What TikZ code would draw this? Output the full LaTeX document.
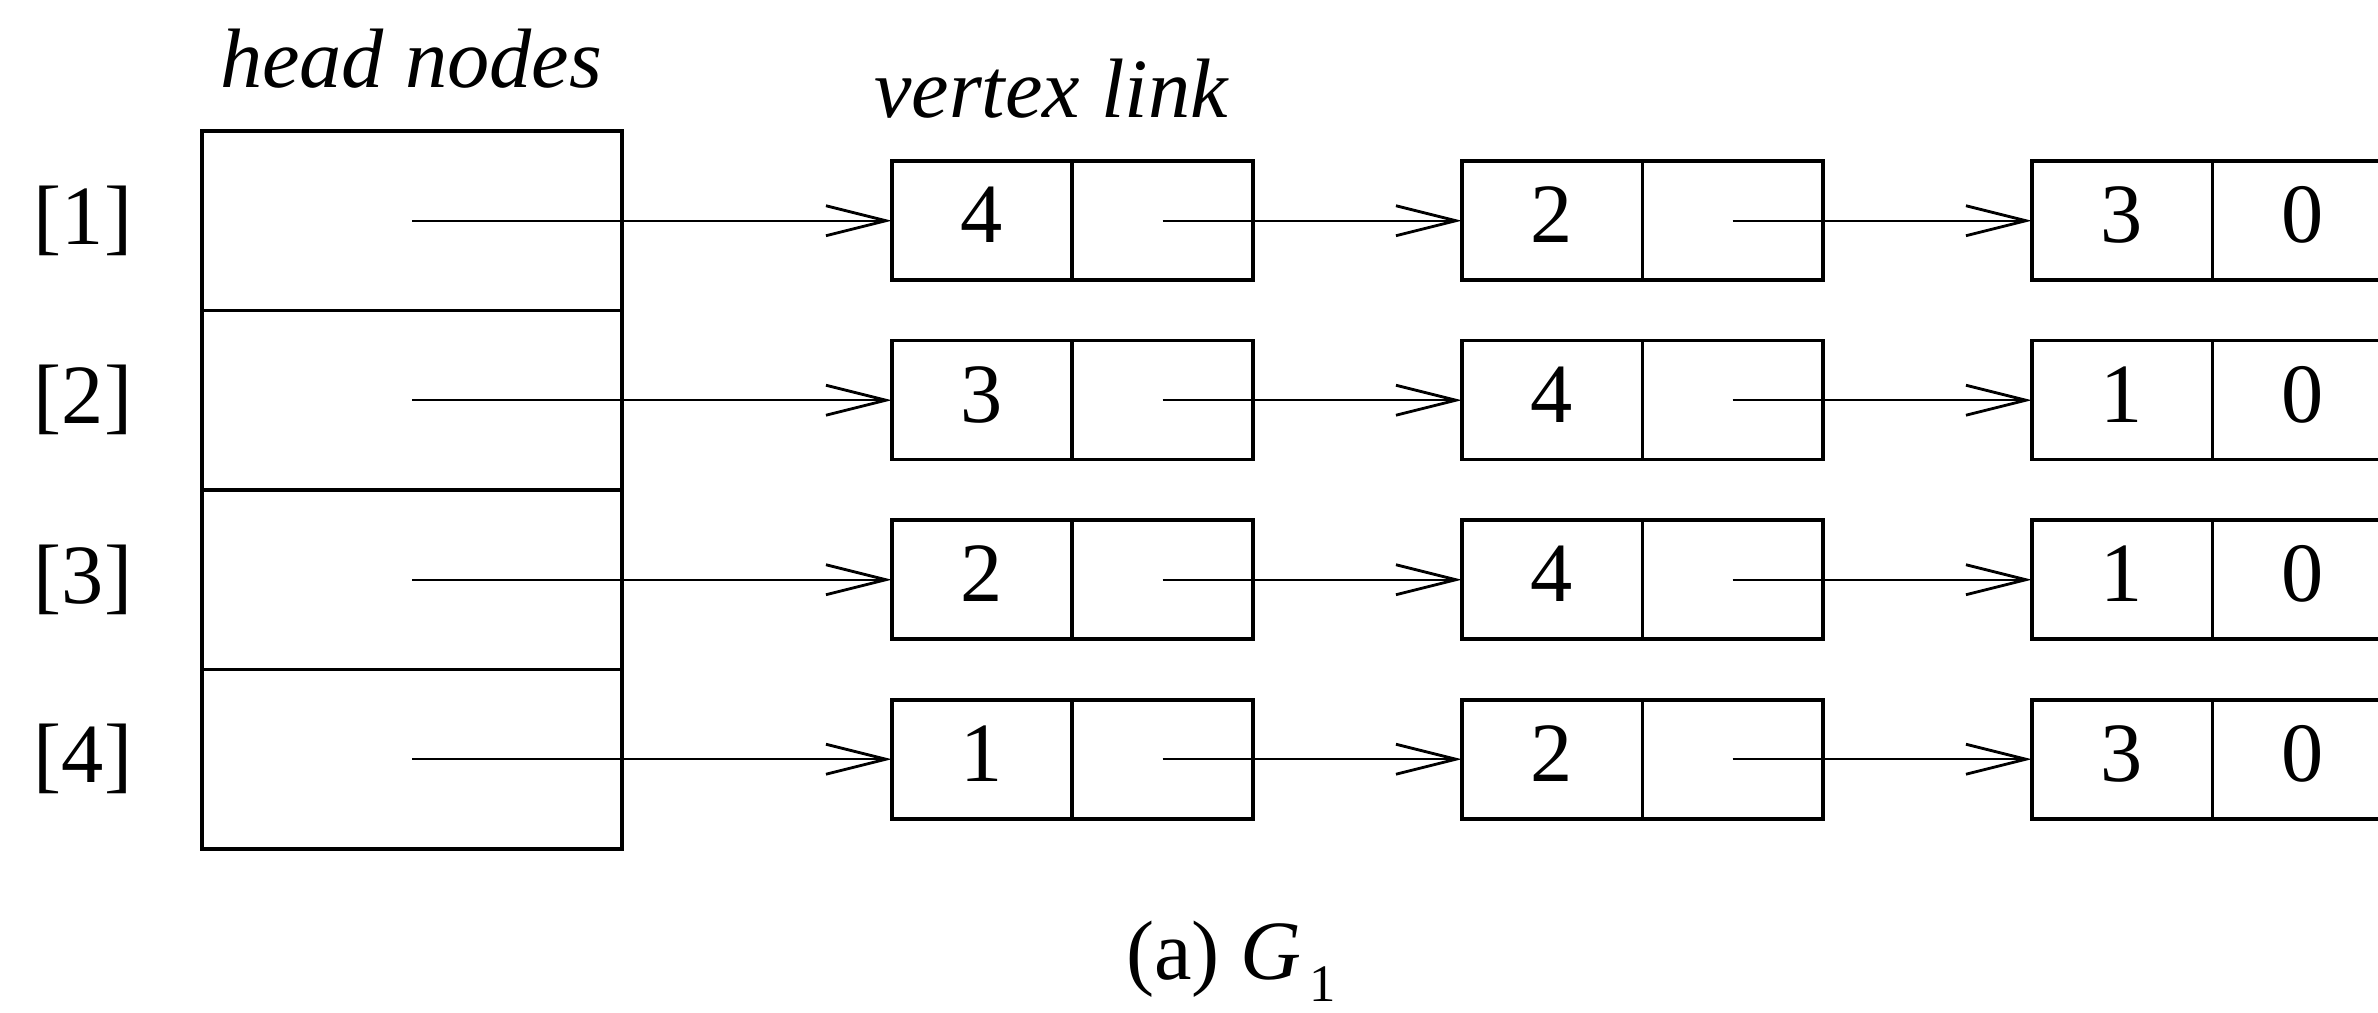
\documentclass[tikz,border=0pt]{standalone}
\usepackage{fontspec}
\setmainfont{Liberation Serif}
\usetikzlibrary{arrows.meta}
\begin{document}
\begin{tikzpicture}[x=0.1mm,y=-0.1mm,
  every node/.style={font=\fontsize{24}{28}\selectfont},
  cell/.style={draw, line width=1pt, minimum width=18.05mm, minimum height=11.9mm,
    inner sep=0pt, outer sep=0pt, text height=16pt, text depth=3.5pt},
  headcell/.style={draw, line width=1pt, minimum width=42mm, minimum height=17.95mm,
    inner sep=0pt, outer sep=0pt},
  link/.style={line width=0.7pt, -{Straight Barb[length=6mm,width=3mm,line width=0.8pt]}}]
\useasboundingbox (0,0) rectangle (2378,1013);
\clip (0,0) rectangle (2378,1013);
\node[anchor=base, font=\fontsize{24}{28}\selectfont\itshape] (hn) at (411,88) {head nodes};
\node[anchor=base, font=\fontsize{24}{28}\selectfont\itshape] (vl) at (1051,118) {vertex link};
\foreach \i/\p/\q/\r in {1/4/2/3, 2/3/4/1, 3/2/4/1, 4/1/2/3} {
  \pgfmathsetmacro\yy{131+179.5*(\i-0.5)}
  \node (lab\i) at (83,\yy) {[\i]};
  \node[headcell] (h\i) at (412,\yy) {};
  \node[cell] (a\i1) at (982,\yy) {\p};
  \node[cell] (b\i1) at (1162.5,\yy) {};
  \node[cell] (a\i2) at (1552,\yy) {\q};
  \node[cell] (b\i2) at (1732.5,\yy) {};
  \node[cell] (a\i3) at (2122,\yy) {\r};
  \node[cell] (b\i3) at (2302.5,\yy) {0};
  \draw[link] (h\i.center) -- (a\i1.west);
  \draw[link] (b\i1.center) -- (a\i2.west);
  \draw[link] (b\i2.center) -- (a\i3.west);
}
\node[anchor=base] (cap) at (1231,980) {(a) \textit{G}\hspace{0.8mm}\raisebox{-6pt}{\fontsize{15}{18}\selectfont 1}};
\end{tikzpicture}
\end{document}
